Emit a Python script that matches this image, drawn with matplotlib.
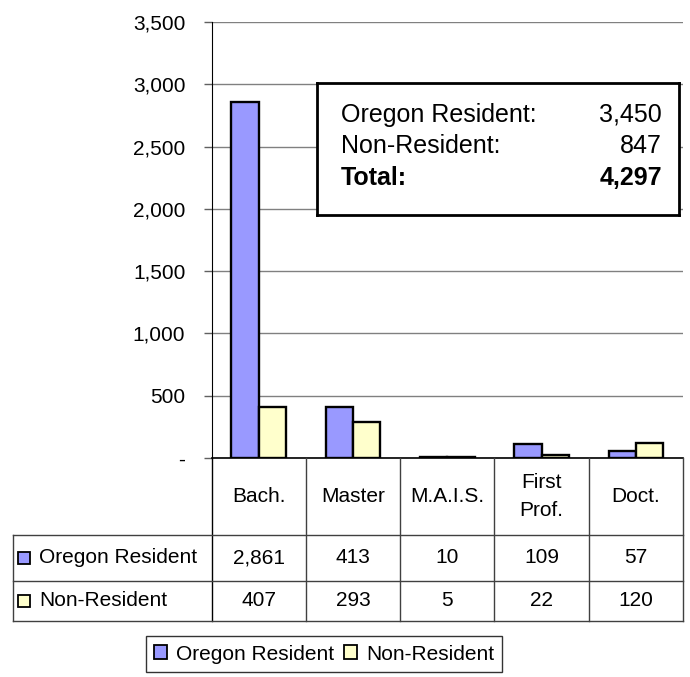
import matplotlib
matplotlib.use('Agg')
import matplotlib.pyplot as plt
from matplotlib.patches import Rectangle
from matplotlib.ticker import FuncFormatter
import numpy as np

plt.rcParams['font.family'] = ['Liberation Sans', 'DejaVu Sans']

# data
categories = ['Bach.', 'Master', 'M.A.I.S.', 'First\nProf.', 'Doct.']
series_names = ['Oregon Resident', 'Non-Resident']
oregon = [2861, 413, 10, 109, 57]
non_resident = [407, 293, 5, 22, 120]
colors = ['#9999FF', '#FFFFCC']

W, H = 690, 677
FS = 15


def px(x0, y0, x1, y1):
    return [x0 / W, 1 - y1 / H, (x1 - x0) / W, (y1 - y0) / H]


fig = plt.figure(figsize=(W / 100, H / 100), dpi=100)

# main bar axes
ax = fig.add_axes(px(211.7, 22, 683, 458))
x = np.arange(len(categories))
w = 0.29
b1 = ax.bar(x - w / 2, oregon, w, color=colors[0], edgecolor='black', linewidth=1.7,
            label=series_names[0], zorder=3)
b2 = ax.bar(x + w / 2, non_resident, w, color=colors[1], edgecolor='black', linewidth=1.7,
            label=series_names[1], zorder=3)
ax.set_xlim(-0.5, len(categories) - 0.5)
ax.set_ylim(0, 3500)
ax.set_yticks(np.arange(0, 3501, 500))
ax.yaxis.set_major_formatter(FuncFormatter(lambda v, p: '-' if v == 0 else f'{v:,.0f}'))
ax.grid(axis='y', color='#808080', linewidth=1, zorder=0)
ax.set_xticks([])
for s in ['top', 'right']:
    ax.spines[s].set_visible(False)
ax.spines['left'].set_color('black')
ax.spines['bottom'].set_color('black')
ax.spines['bottom'].set_linewidth(1.2)
ax.tick_params(axis='y', length=6, width=1, color='#606060', pad=13, labelsize=FS)

# data table under the chart
unit = (683 - 211.7) / len(categories)
left_edge = -0.5 - (211.7 - 13) / unit
tab = fig.add_axes(px(13, 458, 683, 621))
tab.set_xlim(left_edge, len(categories) - 0.5)
tab.set_ylim(621, 458)
tab.axis('off')
rows_y = [458, 535, 580.7, 621]
lc = '#404040'
for k in range(len(categories) + 1):
    tab.plot([k - 0.5, k - 0.5], [rows_y[0], rows_y[-1]],
             color='black' if k == 0 else lc, lw=1, clip_on=False)
tab.plot([left_edge, left_edge], [rows_y[1], rows_y[-1]], color=lc, lw=1, clip_on=False)
for yy in rows_y[1:]:
    tab.plot([left_edge, len(categories) - 0.5], [yy, yy], color=lc, lw=1, clip_on=False)

for i, c in enumerate(categories):
    tab.text(i, (rows_y[0] + rows_y[1]) / 2, c, ha='center', va='center',
             fontsize=FS, linespacing=1.6)
for r, vals in enumerate([oregon, non_resident]):
    yc = (rows_y[r + 1] + rows_y[r + 2]) / 2
    for i, v in enumerate(vals):
        tab.text(i, yc, f'{v:,}', ha='center', va='center', fontsize=FS)
    # row label with colour key
    sw = 12.5 / unit
    tab.add_patch(Rectangle((left_edge + 5 / unit, yc - 6), sw, 12.5,
                            facecolor=colors[r], edgecolor='black', lw=1.3, clip_on=False))
    tab.text(left_edge + 26 / unit, yc, series_names[r], ha='left', va='center', fontsize=FS)

# totals box
box = fig.add_axes(px(317, 83, 679, 215))
box.set_xticks([])
box.set_yticks([])
for s in box.spines.values():
    s.set_linewidth(2)
    s.set_color('black')
tot_o, tot_n = sum(oregon), sum(non_resident)
lines = [('Oregon Resident:', f'{tot_o:,}', 'normal'),
         ('Non-Resident:', f'{tot_n:,}', 'normal'),
         ('Total:', f'{tot_o + tot_n:,}', 'bold')]
for (lab, val, wt), yf in zip(lines, [0.24, 0.475, 0.72]):
    box.text(0.066, 1 - yf, lab, ha='left', va='center', fontsize=18, fontweight=wt,
             transform=box.transAxes)
    box.text(0.953, 1 - yf, val, ha='right', va='center', fontsize=18, fontweight=wt,
             transform=box.transAxes)

# legend
leg = fig.legend(handles=[b1, b2], loc='center', bbox_to_anchor=(324 / W, 1 - 654 / H),
                 ncol=2, fontsize=FS, frameon=True, fancybox=False, edgecolor='black',
                 handlelength=0.62, handleheight=0.62, handletextpad=0.43,
                 columnspacing=0.48, borderpad=0.4, borderaxespad=0)
leg.get_frame().set_linewidth(1)
for hnd in leg.legend_handles:
    hnd.set_linewidth(1.3)

fig.savefig('out.png', dpi=100)
